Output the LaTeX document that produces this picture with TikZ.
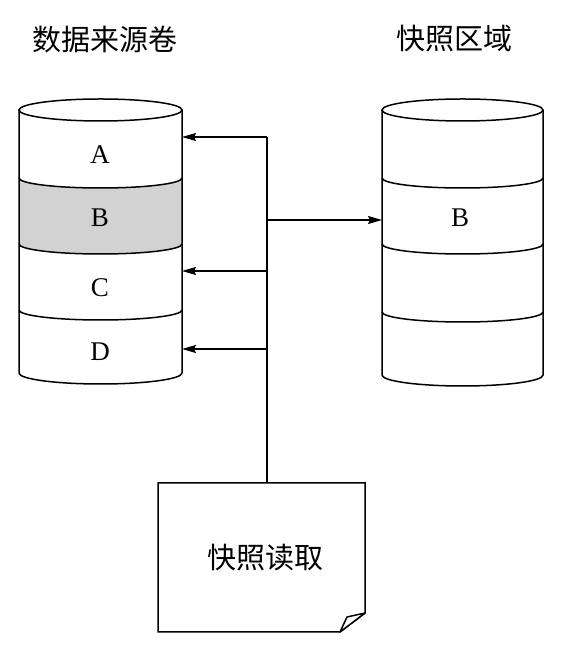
\documentclass[tikz,border=0pt]{standalone}
\usepackage{fontspec}
\setmainfont{Liberation Serif}
\newfontfamily\cjk{Noto Sans CJK SC}
\usetikzlibrary{arrows.meta}
\begin{document}
\begin{tikzpicture}[x=1pt,y=1pt,
  line width=1.5pt,
  letter/.style={font=\fontsize{27}{27}\selectfont, inner sep=0pt},
  title/.style={font=\cjk\fontsize{29}{29}\selectfont, inner sep=0pt},
  arr/.style={-{Stealth[length=14pt,width=8pt,inset=2pt]}}
]
\useasboundingbox (0,0) rectangle (566,650);
% ---------- left cylinder (source volume) ----------
\fill[gray!35] (19,472) arc[start angle=180,end angle=360,x radius=81.5,y radius=10]
  -- (182,406) arc[start angle=360,end angle=180,x radius=81.5,y radius=10] -- cycle;
\draw (100.5,540) ellipse[x radius=81.5,y radius=11];
\draw (19,540) -- (19,277) arc[start angle=180,end angle=360,x radius=81.5,y radius=11] -- (182,540);
\foreach \yy in {472,406,340}
  \draw (19,\yy) arc[start angle=180,end angle=360,x radius=81.5,y radius=10];
\node[letter] (A) at (100,495) {A};
\node[letter] (B) at (100,432) {B};
\node[letter] (C) at (100,362) {C};
\node[letter] (D) at (100,298) {D};
% ---------- right cylinder (snapshot area) ----------
\draw (462.5,540) ellipse[x radius=80.5,y radius=11];
\draw (382,540) -- (382,275) arc[start angle=180,end angle=360,x radius=80.5,y radius=11] -- (543,540);
\foreach \yy in {472,406,338}
  \draw (382,\yy) arc[start angle=180,end angle=360,x radius=80.5,y radius=10];
\node[letter] (B2) at (460,432) {B};
% ---------- titles ----------
\node[title] (t1) at (104.5,611) {数据来源卷};
\node[title] (t2) at (454,611) {快照区域};
% ---------- snapshot read document ----------
\draw (158,167) -- (365,167) -- (365,37) -- (340,18) -- (158,18) -- cycle;
\draw[fill=white, line join=round] (365,37) -- (347,33) -- (340,18) -- cycle;
\node[title] (read) at (265,92) {快照读取};
% ---------- connectors ----------
\coordinate (docTop) at (267,167);
\coordinate (busTop) at (267,513);
\coordinate (busC) at (267,379);
\coordinate (busD) at (267,301);
\coordinate (busB) at (267,430);
\coordinate (srcA) at (182,513);
\coordinate (srcC) at (182,379);
\coordinate (srcD) at (182,301);
\coordinate (dstB) at (382,430);
\draw (docTop) -- (busTop);
\draw[arr] (busTop) -- (srcA);
\draw[arr] (busC) -- (srcC);
\draw[arr] (busD) -- (srcD);
\draw[arr] (busB) -- (dstB);
\end{tikzpicture}
\end{document}
